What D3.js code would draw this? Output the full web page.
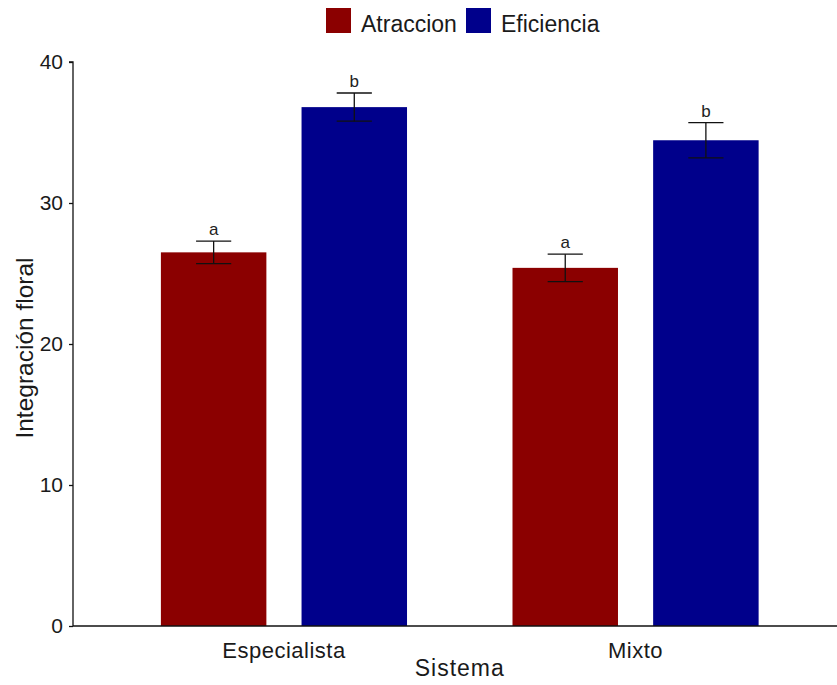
<!DOCTYPE html>
<html lang="en">
<head>
<meta charset="utf-8">
<title>Integración floral</title>
<style>
  body { margin: 0; background: #fff; }
  text { font-family: "Liberation Sans", Arial, sans-serif; }
</style>
<script src="https://d3js.org/d3.v7.min.js"></script>
</head>
<body>
<script>
// data
const sistemas = ["Especialista", "Mixto"];
const grupos = ["Atraccion", "Eficiencia"];
const colores = ["#8b0000", "#00008b"];
const atraccionMedia = [26.5, 25.4];
const atraccionErr = [0.8, 0.97];
const eficienciaMedia = [36.8, 34.45];
const eficienciaErr = [1.0, 1.25];
const letrasAtraccion = ["a", "a"];
const letrasEficiencia = ["b", "b"];
const yTicks = [0, 10, 20, 30, 40];

const width = 837, height = 685;
const mLeft = 73, mTop = 62, mBottom = 626;
const mRight = mLeft + 2.2 * 351.6;

const rows = [];
sistemas.forEach((s, i) => {
  rows.push({sistema: s, grupo: grupos[0], media: atraccionMedia[i], err: atraccionErr[i], letra: letrasAtraccion[i]});
  rows.push({sistema: s, grupo: grupos[1], media: eficienciaMedia[i], err: eficienciaErr[i], letra: letrasEficiencia[i]});
});

const svg = d3.select("body").append("svg")
  .attr("width", width)
  .attr("height", height);

// ggplot-like discrete scale: 0.6 expansion each side
const unit = (mRight - mLeft) / 2.2;
const xCenter = s => mLeft + unit * (0.6 + sistemas.indexOf(s));
const dodge = d3.scaleOrdinal().domain(grupos).range([-0.2, 0.2]);
const barW = 0.3 * unit;
const capW = 0.1 * unit;
const xPos = d => xCenter(d.sistema) + dodge(d.grupo) * unit;

const y = d3.scaleLinear().domain([0, 40]).range([mBottom, mTop]);
const color = d3.scaleOrdinal().domain(grupos).range(colores);

// bars
svg.selectAll("rect.bar")
  .data(rows)
  .enter().append("rect")
  .attr("class", "bar")
  .attr("x", d => xPos(d) - barW / 2)
  .attr("width", barW)
  .attr("y", d => y(d.media))
  .attr("height", d => y(0) - y(d.media))
  .attr("fill", d => color(d.grupo));

// error bars
const eb = svg.selectAll("g.err")
  .data(rows)
  .enter().append("g")
  .attr("class", "err")
  .attr("stroke", "#111")
  .attr("stroke-width", 1.3);
eb.append("line")
  .attr("x1", xPos).attr("x2", xPos)
  .attr("y1", d => y(d.media + d.err))
  .attr("y2", d => y(d.media - d.err));
eb.append("line")
  .attr("x1", d => xPos(d) - capW / 2)
  .attr("x2", d => xPos(d) + capW / 2)
  .attr("y1", d => y(d.media + d.err))
  .attr("y2", d => y(d.media + d.err));
eb.append("line")
  .attr("x1", d => xPos(d) - capW / 2)
  .attr("x2", d => xPos(d) + capW / 2)
  .attr("y1", d => y(d.media - d.err))
  .attr("y2", d => y(d.media - d.err));

// letters
svg.selectAll("text.letra")
  .data(rows)
  .enter().append("text")
  .attr("class", "letra")
  .attr("x", xPos)
  .attr("y", d => y(d.media + d.err) - 6)
  .attr("text-anchor", "middle")
  .style("font-size", "17px")
  .style("fill", "#222")
  .text(d => d.letra);

// y axis
const yAxis = svg.append("g")
  .attr("transform", `translate(${mLeft},0)`)
  .call(d3.axisLeft(y).tickValues(yTicks).tickSize(4).tickPadding(6));
yAxis.select(".domain").attr("d", `M-4,${mTop}H0V${mBottom}`).attr("stroke", "#111").attr("stroke-width", 1.3);
yAxis.selectAll(".tick line").attr("stroke", "#111").attr("stroke-width", 1.3);
yAxis.selectAll(".tick text")
  .style("font-size", "21px")
  .style("fill", "#1a1a1a")
  .style("font-family", "Liberation Sans, Arial, sans-serif");

// x axis
const xAxisG = svg.append("g");
xAxisG.append("line")
  .attr("x1", mLeft).attr("x2", mRight)
  .attr("y1", mBottom).attr("y2", mBottom)
  .attr("stroke", "#111")
  .attr("stroke-width", 1.3);
xAxisG.selectAll("text")
  .data(sistemas)
  .enter().append("text")
  .attr("x", d => xCenter(d))
  .attr("y", 657.5)
  .attr("text-anchor", "middle")
  .style("font-size", "22px")
  .style("letter-spacing", "0.5px")
  .style("fill", "#1a1a1a")
  .text(d => d);

// axis titles
svg.append("text")
  .attr("x", (mLeft + mRight) / 2)
  .attr("y", 676)
  .attr("text-anchor", "middle")
  .style("font-size", "23px")
  .style("letter-spacing", "1px")
  .style("fill", "#1a1a1a")
  .text("Sistema");
svg.append("text")
  .attr("transform", `translate(33,348) rotate(-90)`)
  .attr("text-anchor", "middle")
  .style("font-size", "24.5px")
  .style("fill", "#1a1a1a")
  .text("Integración floral");

// legend
const legendPos = [326, 466];
const legend = svg.selectAll("g.legend")
  .data(grupos)
  .enter().append("g")
  .attr("class", "legend")
  .attr("transform", (d, i) => `translate(${legendPos[i]},8)`);
legend.append("rect")
  .attr("width", 25).attr("height", 25)
  .attr("fill", d => color(d));
legend.append("text")
  .attr("x", 35).attr("y", 24)
  .style("font-size", "23px")
  .style("fill", "#1a1a1a")
  .text(d => d);
</script>
</body>
</html>
